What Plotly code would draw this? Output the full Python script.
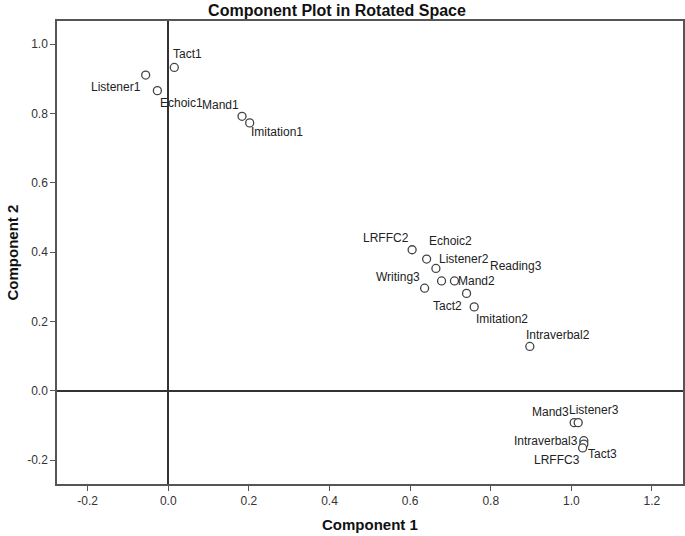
import plotly.graph_objects as go

# rotated component loadings
labels = ["Tact1", "Listener1", "Echoic1", "Mand1", "Imitation1",
          "LRFFC2", "Echoic2", "Listener2", "Reading3", "Mand2",
          "Writing3", "Tact2", "Imitation2", "Intraverbal2",
          "Mand3", "Listener3", "Intraverbal3", "Tact3", "LRFFC3"]
comp1 = [0.015, -0.056, -0.027, 0.183, 0.202,
         0.605, 0.641, 0.664, 0.678, 0.710,
         0.636, 0.740, 0.759, 0.897,
         1.007, 1.017, 1.031, 1.031, 1.028]
comp2 = [0.933, 0.911, 0.866, 0.792, 0.773,
         0.407, 0.380, 0.353, 0.317, 0.317,
         0.296, 0.281, 0.242, 0.128,
         -0.092, -0.092, -0.144, -0.154, -0.165]

x_ticks = [-0.2, 0.0, 0.2, 0.4, 0.6, 0.8, 1.0, 1.2]
x_ticktext = ["-0.2", "0.0", "0.2", "0.4", "0.6", "0.8", "1.0", "1.2"]
y_ticks = [-0.2, 0.0, 0.2, 0.4, 0.6, 0.8, 1.0]
y_ticktext = ["-0.2", "0.0", "0.2", "0.4", "0.6", "0.8", "1.0"]

# label offsets in pixels (dx, dy up)
offsets = {
    "Tact1": (13, 13), "Listener1": (-30, -12), "Echoic1": (24, -12),
    "Mand1": (-22, 11), "Imitation1": (27, -9), "LRFFC2": (-26, 12),
    "Echoic2": (24, 18), "Listener2": (28, 9), "Reading3": (74, 15),
    "Mand2": (22, 0), "Writing3": (-27, 11), "Tact2": (-19, -13),
    "Imitation2": (28, -12), "Intraverbal2": (28, 11), "Mand3": (-24, 11),
    "Listener3": (16, 13), "Intraverbal3": (-38, 0), "Tact3": (19, -10),
    "LRFFC3": (-26, -12),
}

FONT = "Liberation Sans, Arial, sans-serif"

W, H = 685, 536
ML, MR, MT, MB = 57, 2, 21, 52
PW, PH = W - ML - MR, H - MT - MB

fig = go.Figure(go.Scatter(
    x=comp1, y=comp2, mode="markers",
    marker=dict(symbol="circle", size=8, color="white",
                line=dict(color="#444444", width=1.3)),
    hovertext=labels, hoverinfo="text",
))

for lab, xv, yv in zip(labels, comp1, comp2):
    dx, dy = offsets[lab]
    fig.add_annotation(x=xv, y=yv, text=lab, showarrow=False,
                       xshift=dx, yshift=dy,
                       font=dict(family=FONT, size=12, color="#222222"))

# axis titles
fig.add_annotation(xref="paper", yref="paper", x=0.5, y=-40 / PH,
                   xanchor="center", yanchor="middle", showarrow=False,
                   text="<b>Component 1</b>",
                   font=dict(family=FONT, size=15, color="#111111"))
fig.add_annotation(xref="paper", yref="paper", x=-45 / PW, y=0.5,
                   xanchor="center", yanchor="middle", showarrow=False,
                   textangle=-90, text="<b>Component 2</b>",
                   font=dict(family=FONT, size=15, color="#111111"))

axis_common = dict(
    showgrid=False, showline=True, mirror=True, linecolor="#555555", linewidth=1.5,
    ticks="outside", ticklen=5, tickcolor="#555555", tickwidth=1.2,
    zeroline=True, zerolinecolor="#333333", zerolinewidth=1.5,
    tickfont=dict(family=FONT, size=12, color="#333333"),
    automargin=False,
)

fig.update_layout(
    width=W, height=H,
    margin=dict(l=ML, r=MR, t=MT, b=MB),
    plot_bgcolor="white", paper_bgcolor="white",
    showlegend=False,
    title=dict(text="<b>Component Plot in Rotated Space</b>",
               x=337 / W, xanchor="center", y=1 - 10 / H, yanchor="middle",
               automargin=False,
               font=dict(family=FONT, size=16, color="#111111")),
    xaxis=dict(range=[-0.276, 1.277], tickvals=x_ticks, ticktext=x_ticktext,
               **axis_common),
    yaxis=dict(range=[-0.269, 1.067], tickvals=y_ticks, ticktext=y_ticktext,
               **axis_common),
)

# drop the browser's default 8px body margin so the figure sits at the page corner
fig.write_html("out.html", config={"displayModeBar": False},
               post_script="document.body.style.margin = '0';")
